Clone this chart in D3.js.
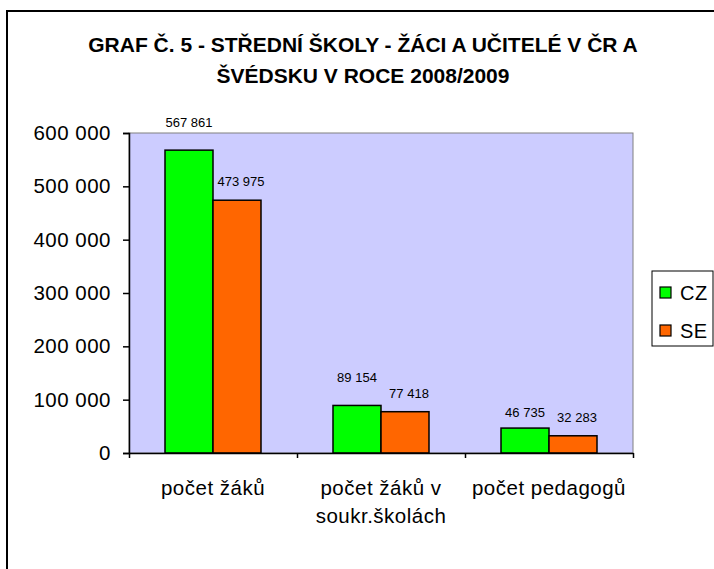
<!DOCTYPE html>
<html>
<head>
    <meta charset="utf-8">
    <style>
        body { margin: 0; padding: 0; overflow: hidden; background-color: #fff; }
        text { font-family: Arial, "Liberation Sans", sans-serif; fill: #000; }
        .title { font-size: 21px; font-weight: bold; letter-spacing: 0px; }
        .tick text { font-size: 20.5px; letter-spacing: 0.5px; }
        .lbl { font-size: 13px; }
        .legend text { font-size: 20px; letter-spacing: 0.5px; }
    </style>
</head>
<body>
    <div id="chart"></div>
    <script src="https://d3js.org/d3.v7.min.js"></script>
    <script>
        var categories = [["počet žáků"], ["počet žáků v", "soukr.školách"], ["počet pedagogů"]];
        var seriesNames = ["CZ", "SE"];
        var valuesCZ = [567861, 89154, 46735];
        var valuesSE = [473975, 77418, 32283];
        var colors = ["#00ff00", "#ff6600"];
        var yTicks = [0, 100000, 200000, 300000, 400000, 500000, 600000];
        var titleLines = ["GRAF Č. 5 - STŘEDNÍ ŠKOLY - ŽÁCI A UČITELÉ V ČR A", "ŠVÉDSKU V ROCE 2008/2009"];

        var width = 714, height = 569;
        var plot = { left: 129, top: 133, right: 633, bottom: 453 };

        var svg = d3.select("#chart").append("svg")
            .attr("width", width)
            .attr("height", height);

        // outer chart frame (runs off the right and bottom edge)
        svg.append("rect")
            .attr("x", 7).attr("y", 11)
            .attr("width", 730).attr("height", 580)
            .attr("fill", "#fff")
            .attr("stroke", "#000")
            .attr("stroke-width", 2);

        svg.selectAll("text.title")
            .data(titleLines)
            .enter().append("text")
            .attr("class", "title")
            .attr("x", 363)
            .attr("y", (d, i) => 52 + i * 31)
            .attr("text-anchor", "middle")
            .text(d => d);

        var x0 = d3.scaleBand()
            .domain(d3.range(categories.length))
            .range([plot.left, plot.right])
            .paddingInner(0)
            .paddingOuter(0);

        var x1 = d3.scaleBand()
            .domain(seriesNames)
            .range([0, x0.bandwidth()])
            .paddingInner(0)
            .paddingOuter(0.75);

        var y = d3.scaleLinear()
            .domain([0, 600000])
            .range([plot.bottom, plot.top]);

        var fmt = v => d3.format(",")(v).replace(/,/g, " ");

        svg.append("rect")
            .attr("x", plot.left).attr("y", plot.top)
            .attr("width", plot.right - plot.left)
            .attr("height", plot.bottom - plot.top)
            .attr("fill", "#ccccff")
            .attr("stroke", "#808080")
            .attr("stroke-width", 1);

        var rows = [];
        categories.forEach(function(c, i) {
            rows.push({ cat: i, s: "CZ", v: valuesCZ[i], color: colors[0] });
            rows.push({ cat: i, s: "SE", v: valuesSE[i], color: colors[1] });
        });

        svg.append("g").selectAll("rect")
            .data(rows)
            .enter().append("rect")
            .attr("x", d => x0(d.cat) + x1(d.s))
            .attr("y", d => y(d.v))
            .attr("width", x1.bandwidth())
            .attr("height", d => y(0) - y(d.v))
            .attr("fill", d => d.color)
            .attr("stroke", "#000")
            .attr("stroke-width", 1.5);

        svg.append("g").selectAll("text")
            .data(rows)
            .enter().append("text")
            .attr("class", "lbl")
            .attr("x", d => x0(d.cat) + x1(d.s) + x1.bandwidth() / 2 + (d.s === "SE" ? 4 : 0))
            .attr("y", d => y(d.v) - (d.s === "CZ" && d.cat < 2 ? 23 : d.s === "CZ" ? 11 : 14))
            .attr("text-anchor", "middle")
            .text(d => fmt(d.v));

        var yAxis = svg.append("g")
            .attr("transform", "translate(" + plot.left + ",0)")
            .call(d3.axisLeft(y).tickValues(yTicks).tickFormat(fmt).tickSize(6).tickPadding(12));
        yAxis.select(".domain").attr("stroke", "#000").attr("stroke-width", 1.5);
        yAxis.selectAll(".tick line").attr("stroke", "#000").attr("stroke-width", 1.5);
        yAxis.selectAll(".tick text").attr("font-family", null).attr("font-size", null);

        var xAxis = svg.append("g")
            .attr("transform", "translate(0," + plot.bottom + ")")
            .call(d3.axisBottom(d3.scaleLinear().domain([0, 3]).range([plot.left, plot.right]))
                .tickValues([0, 1, 2, 3]).tickFormat("").tickSize(5).tickSizeOuter(0));
        xAxis.select(".domain").attr("stroke", "#000").attr("stroke-width", 1.5);
        xAxis.selectAll(".tick line").attr("stroke", "#000").attr("stroke-width", 1.5);

        var catText = svg.append("g").attr("class", "tick").selectAll("text")
            .data(categories)
            .enter().append("text")
            .attr("x", (d, i) => x0(i) + x0.bandwidth() / 2)
            .attr("y", 495)
            .attr("text-anchor", "middle");
        catText.selectAll("tspan")
            .data(d => d)
            .enter().append("tspan")
            .attr("x", function() { return d3.select(this.parentNode).attr("x"); })
            .attr("dy", (d, i) => i === 0 ? 0 : 28)
            .text(d => d);

        var legend = svg.append("g").attr("class", "legend");
        legend.append("rect")
            .attr("x", 652).attr("y", 271)
            .attr("width", 61).attr("height", 75)
            .attr("fill", "#fff")
            .attr("stroke", "#000")
            .attr("stroke-width", 1);
        var item = legend.selectAll("g")
            .data(seriesNames)
            .enter().append("g")
            .attr("transform", (d, i) => "translate(660," + (287 + i * 38) + ")");
        item.append("rect")
            .attr("x", 0).attr("y", 0)
            .attr("width", 11).attr("height", 11)
            .attr("fill", (d, i) => colors[i])
            .attr("stroke", "#000")
            .attr("stroke-width", 1.2);
        item.append("text")
            .attr("x", 20).attr("y", 13)
            .text(d => d);
    </script>
</body>
</html>
